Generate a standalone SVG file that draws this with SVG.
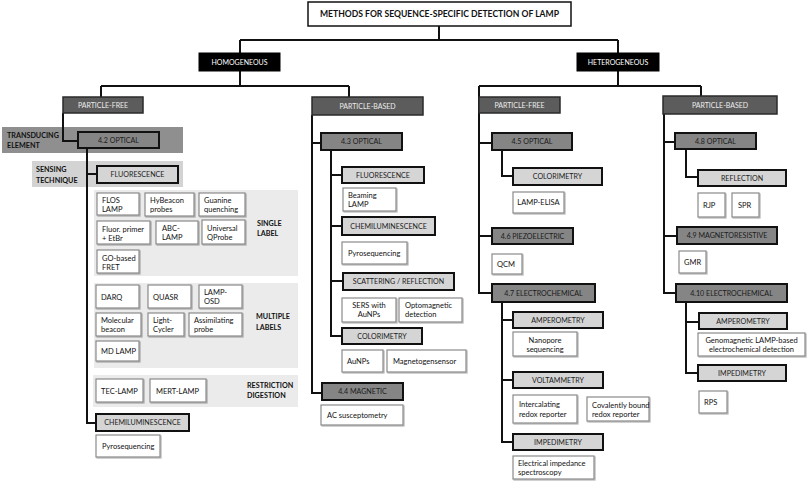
<svg xmlns="http://www.w3.org/2000/svg" width="808" height="484" viewBox="0 0 808 484">
<defs>
<filter id="sh" x="-10%" y="-10%" width="130%" height="140%"><feDropShadow dx="1" dy="1" stdDeviation="0.6" flood-color="#000" flood-opacity="0.3"/></filter>
<style>
text{font-family:Lato,"Open Sans","Liberation Sans",sans-serif;font-size:7.5px;fill:#111}
.c{text-anchor:middle}
.b{font-weight:bold;font-size:7.2px}
.band{stroke:none}
.title rect{fill:#fff;stroke:#111;stroke-width:1.5}
.title text{font-size:8.6px;font-weight:bold}
.blk rect{fill:#000;stroke:#000}
.blk text{fill:#fff;font-size:7px}
.pt rect{fill:#5c5c5c;stroke:#2a2a2a;stroke-width:1.5}
.pt text{fill:#ececec;font-size:7px}
.tr rect{fill:#858585;stroke:#111;stroke-width:2}
.tr text{fill:#1a1a1a;font-size:7.1px}
.st rect{fill:#d5d5d5;stroke:#111;stroke-width:2}
.st text{fill:#1a1a1a;font-size:7.1px}
.lf rect{fill:#fff;stroke:#8a8a8a;stroke-width:1.2;filter:url(#sh)}
#connectors path{fill:none;stroke:#111;stroke-width:2}
</style>
</defs>
<rect width="808" height="484" fill="#fff"/>

<g id="bands">
<rect class="band" x="2" y="127" width="181" height="26" fill="#8f8f8f"/>
<rect class="band" x="32" y="161" width="151" height="26" fill="#d3d3d3"/>
<rect class="band" x="94" y="190" width="204" height="86" fill="#ebebeb"/>
<rect class="band" x="94" y="283" width="204" height="85" fill="#ebebeb"/>
<rect class="band" x="93" y="375" width="205" height="32" fill="#ebebeb"/>
<text class="b" x="7" y="138">TRANSDUCING</text>
<text class="b" x="7" y="148">ELEMENT</text>
<text class="b" x="36" y="172">SENSING</text>
<text class="b" x="36" y="183">TECHNIQUE</text>
<text class="b" x="257" y="226">SINGLE</text>
<text class="b" x="257" y="236">LABEL</text>
<text class="b" x="256" y="319">MULTIPLE</text>
<text class="b" x="256" y="330">LABELS</text>
<text class="b" x="247" y="388">RESTRICTION</text>
<text class="b" x="247" y="398">DIGESTION</text>
</g>

<g id="connectors">
<path d="M439,26 V40 M240,40 H618 M240,40 V53 M618,40 V53"/>
<path d="M240,71 V86 M101,86 H349 M101,86 V97 M349,86 V97"/>
<path d="M618,71 V86 M479,86 H701 M701,86 V96"/>
<path d="M63,113 V141 H78"/>
<path d="M87,148 V423 H96 M87,174 H97"/>
<path d="M312,115 V393 H322 M312,143 H321"/>
<path d="M331,150 V336 H342 M331,175 H342 M331,226 H342 M331,281 H343"/>
<path d="M479,86 V293 H492 M479,143 H492 M479,236 H492"/>
<path d="M502,150 V176 H513"/>
<path d="M502,302 V442 H513 M502,320 H513 M502,380 H513"/>
<path d="M664,114 V293 H676 M664,142 H675 M664,236 H677"/>
<path d="M686,149 V177 H698"/>
<path d="M686,302 V373 H698 M686,322 H699"/>
</g>

<g id="title" class="title"><rect x="308" y="2" width="263" height="24"/><text class="c" x="439.5" y="17">METHODS FOR SEQUENCE-SPECIFIC DETECTION OF LAMP</text></g>

<g id="homogeneous" class="blk"><rect x="199" y="53" width="81" height="18"/><text class="c" x="239.5" y="64.5">HOMOGENEOUS</text></g>
<g id="heterogeneous" class="blk"><rect x="577" y="53" width="82" height="18"/><text class="c" x="618" y="64.5">HETEROGENEOUS</text></g>

<g id="homo-pf" class="pt"><rect x="63" y="97" width="80" height="16"/><text class="c" x="103" y="107.5">PARTICLE-FREE</text></g>
<g id="homo-pb" class="pt"><rect x="312" y="97" width="111" height="18"/><text class="c" x="367.5" y="108.5">PARTICLE-BASED</text></g>
<g id="hetero-pf" class="pt"><rect x="479" y="97" width="81" height="16"/><text class="c" x="519.5" y="107.5">PARTICLE-FREE</text></g>
<g id="hetero-pb" class="pt"><rect x="663" y="96" width="114" height="18"/><text class="c" x="720" y="107.5">PARTICLE-BASED</text></g>

<g id="t42" class="tr"><rect x="78" y="132" width="81" height="16"/><text class="c" x="118.5" y="142.5">4.2 OPTICAL</text></g>
<g id="t43" class="tr"><rect x="321" y="133" width="81" height="17"/><text class="c" x="361.5" y="144">4.3 OPTICAL</text></g>
<g id="t44" class="tr"><rect x="322" y="383" width="81" height="17"/><text class="c" x="362.5" y="394">4.4 MAGNETIC</text></g>
<g id="t45" class="tr"><rect x="492" y="133" width="80" height="17"/><text class="c" x="532" y="144">4.5 OPTICAL</text></g>
<g id="t46" class="tr"><rect x="492" y="228" width="81" height="16"/><text class="c" x="532.5" y="238.5">4.6 PIEZOELECTRIC</text></g>
<g id="t47" class="tr"><rect x="492" y="284" width="103" height="18"/><text class="c" x="543.5" y="295.5">4.7 ELECTROCHEMICAL</text></g>
<g id="t48" class="tr"><rect x="675" y="133" width="81" height="16"/><text class="c" x="715.5" y="143.5">4.8 OPTICAL</text></g>
<g id="t49" class="tr"><rect x="677" y="227" width="100" height="17"/><text class="c" x="727" y="238">4.9 MAGNETORESISTIVE</text></g>
<g id="t410" class="tr"><rect x="676" y="284" width="111" height="18"/><text class="c" x="731.5" y="295.5">4.10 ELECTROCHEMICAL</text></g>

<g id="s-fluo1" class="st"><rect x="97" y="166" width="81" height="17"/><text class="c" x="137.5" y="177">FLUORESCENCE</text></g>
<g id="s-chemi1" class="st"><rect x="96" y="414" width="93" height="17"/><text class="c" x="142.5" y="425">CHEMILUMINESCENCE</text></g>
<g id="s-fluo2" class="st"><rect x="342" y="167" width="82" height="16"/><text class="c" x="383" y="177.5">FLUORESCENCE</text></g>
<g id="s-chemi2" class="st"><rect x="342" y="217" width="93" height="18"/><text class="c" x="388.5" y="228.5">CHEMILUMINESCENCE</text></g>
<g id="s-scat" class="st"><rect x="343" y="273" width="111" height="17"/><text class="c" x="398.5" y="284">SCATTERING / REFLECTION</text></g>
<g id="s-colo1" class="st"><rect x="342" y="328" width="80" height="16"/><text class="c" x="382" y="338.5">COLORIMETRY</text></g>
<g id="s-colo2" class="st"><rect x="513" y="168" width="89" height="17"/><text class="c" x="557.5" y="179">COLORIMETRY</text></g>
<g id="s-amp1" class="st"><rect x="513" y="312" width="90" height="16"/><text class="c" x="558" y="322.5">AMPEROMETRY</text></g>
<g id="s-volt" class="st"><rect x="513" y="372" width="90" height="16"/><text class="c" x="558" y="382.5">VOLTAMMETRY</text></g>
<g id="s-imp1" class="st"><rect x="513" y="434" width="90" height="16"/><text class="c" x="558" y="444.5">IMPEDIMETRY</text></g>
<g id="s-refl" class="st"><rect x="698" y="170" width="88" height="16"/><text class="c" x="742" y="180.5">REFLECTION</text></g>
<g id="s-amp2" class="st"><rect x="699" y="313" width="88" height="16"/><text class="c" x="743" y="323.5">AMPEROMETRY</text></g>
<g id="s-imp2" class="st"><rect x="698" y="365" width="88" height="16"/><text class="c" x="742" y="375.5">IMPEDIMETRY</text></g>

<g id="l-flos" class="lf"><rect x="97" y="193" width="42" height="22"/><text x="102" y="203">FLOS</text><text x="102" y="212">LAMP</text></g>
<g id="l-hyb" class="lf"><rect x="145" y="193" width="49" height="23"/><text x="150" y="203">HyBeacon</text><text x="150" y="212">probes</text></g>
<g id="l-guan" class="lf"><rect x="199" y="193" width="46" height="23"/><text x="204" y="203">Guanine</text><text x="204" y="212">quenching</text></g>
<g id="l-fluor" class="lf"><rect x="97" y="221" width="53" height="23"/><text x="102" y="232">Fluor. primer</text><text x="102" y="241">+ EtBr</text></g>
<g id="l-abc" class="lf"><rect x="156" y="221" width="42" height="23"/><text x="162" y="231">ABC-</text><text x="162" y="240">LAMP</text></g>
<g id="l-uqp" class="lf"><rect x="202" y="220" width="43" height="24"/><text x="207" y="231">Universal</text><text x="207" y="240">QProbe</text></g>
<g id="l-go" class="lf"><rect x="97" y="250" width="42" height="23"/><text x="102" y="261">GO-based</text><text x="102" y="270">FRET</text></g>
<g id="l-darq" class="lf"><rect x="96" y="285" width="43" height="23"/><text x="101" y="299.5">DARQ</text></g>
<g id="l-quasr" class="lf"><rect x="148" y="285" width="43" height="23"/><text x="153" y="299.5">QUASR</text></g>
<g id="l-osd" class="lf"><rect x="199" y="285" width="43" height="23"/><text x="204" y="295">LAMP-</text><text x="204" y="304">OSD</text></g>
<g id="l-mb" class="lf"><rect x="96" y="313" width="45" height="23"/><text x="101" y="323">Molecular</text><text x="101" y="332">beacon</text></g>
<g id="l-lc" class="lf"><rect x="148" y="313" width="36" height="23"/><text x="153" y="323">Light-</text><text x="153" y="332">Cycler</text></g>
<g id="l-ap" class="lf"><rect x="189" y="313" width="53" height="23"/><text x="194" y="323">Assimilating</text><text x="194" y="332">probe</text></g>
<g id="l-md" class="lf"><rect x="96" y="341" width="43" height="20"/><text x="101" y="353.5">MD LAMP</text></g>
<g id="l-tec" class="lf"><rect x="96" y="379" width="47" height="23"/><text x="101" y="393.5">TEC-LAMP</text></g>
<g id="l-mert" class="lf"><rect x="150" y="379" width="56" height="23"/><text x="156" y="393.5">MERT-LAMP</text></g>
<g id="l-pyro1" class="lf"><rect x="96" y="435" width="64" height="22"/><text x="102" y="448.5">Pyrosequencing</text></g>
<g id="l-beam" class="lf"><rect x="343" y="188" width="53" height="23"/><text x="348" y="198">Beaming</text><text x="348" y="207">LAMP</text></g>
<g id="l-pyro2" class="lf"><rect x="342" y="242" width="65" height="22"/><text x="348" y="255.5">Pyrosequencing</text></g>
<g id="l-sers" class="lf"><rect x="342" y="298" width="54" height="24"/><text class="c" x="369" y="308">SERS with</text><text class="c" x="369" y="317">AuNPs</text></g>
<g id="l-opto" class="lf"><rect x="399" y="298" width="63" height="24"/><text x="405" y="308">Optomagnetic</text><text x="405" y="317">detection</text></g>
<g id="l-aunp" class="lf"><rect x="342" y="350" width="41" height="22"/><text x="347" y="363.5">AuNPs</text></g>
<g id="l-mgs" class="lf"><rect x="387" y="350" width="79" height="22"/><text x="393" y="363.5">Magnetogensensor</text></g>
<g id="l-acs" class="lf"><rect x="321" y="405" width="82" height="20"/><text x="327" y="417.5">AC susceptometry</text></g>
<g id="l-elisa" class="lf"><rect x="513" y="192" width="51" height="21"/><text class="c" x="538.5" y="205">LAMP-ELISA</text></g>
<g id="l-qcm" class="lf"><rect x="492" y="254" width="30" height="20"/><text x="497" y="266.5">QCM</text></g>
<g id="l-nano" class="lf"><rect x="513" y="332" width="64" height="24"/><text class="c" x="545" y="343">Nanopore</text><text class="c" x="545" y="352">sequencing</text></g>
<g id="l-inter" class="lf"><rect x="513" y="395" width="64" height="28"/><text x="519" y="407">Intercalating</text><text x="519" y="417">redox reporter</text></g>
<g id="l-cov" class="lf"><rect x="587" y="397" width="62" height="24"/><text x="592" y="407.5">Covalently bound</text><text x="592" y="416.5">redox reporter</text></g>
<g id="l-eis" class="lf"><rect x="513" y="456" width="81" height="23"/><text x="518" y="466">Electrical impedance</text><text x="518" y="475">spectroscopy</text></g>
<g id="l-rjp" class="lf"><rect x="698" y="193" width="27" height="24"/><text x="703" y="207.5">RJP</text></g>
<g id="l-spr" class="lf"><rect x="732" y="193" width="27" height="24"/><text x="738" y="207.5">SPR</text></g>
<g id="l-gmr" class="lf"><rect x="679" y="251" width="27" height="22"/><text x="684" y="264.5">GMR</text></g>
<g id="l-geno" class="lf"><rect x="698" y="333" width="107" height="23"/><text class="c" x="751.5" y="343">Genomagnetic LAMP-based</text><text class="c" x="751.5" y="352">electrochemical detection</text></g>
<g id="l-rps" class="lf"><rect x="699" y="391" width="28" height="22"/><text x="704" y="404.5">RPS</text></g>
</svg>
